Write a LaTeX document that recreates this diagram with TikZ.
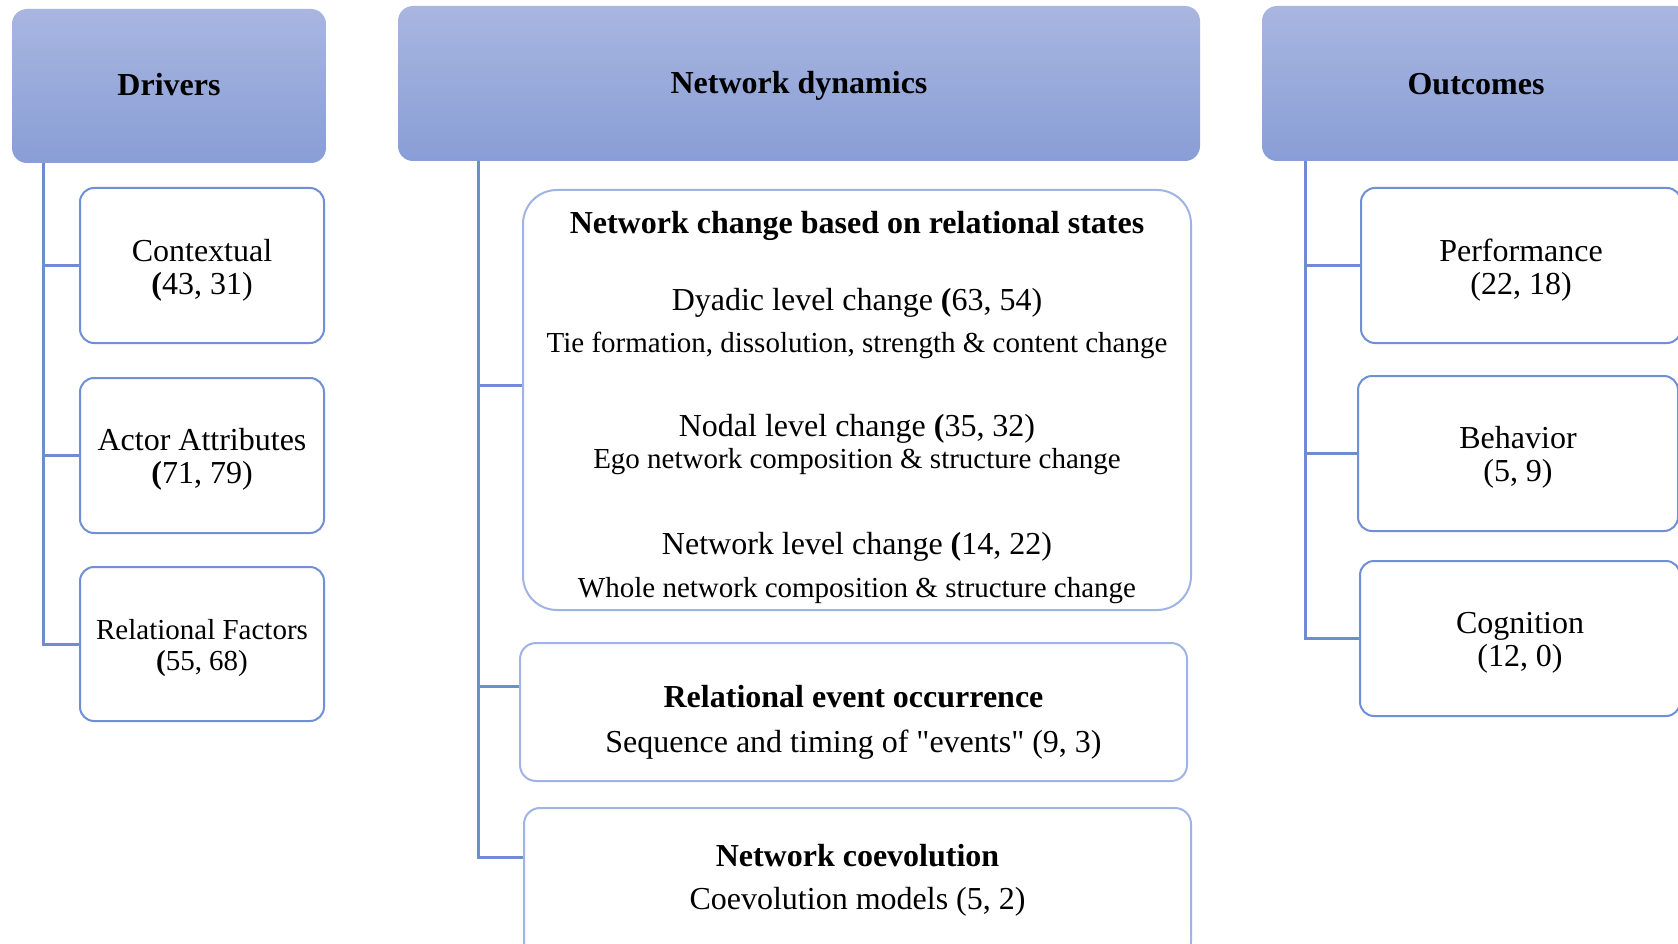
\documentclass[tikz,border=0pt]{standalone}
\usepackage{fontspec}
\setmainfont{Liberation Serif}
\definecolor{hdrTop}{RGB}{168,182,224}
\definecolor{hdrBot}{RGB}{137,158,214}
\definecolor{boxLine}{RGB}{112,143,212}
\definecolor{bigLine}{RGB}{160,180,228}
\definecolor{connLine}{RGB}{112,140,208}
\tikzset{
  hdr/.style={rounded corners=15pt, top color=hdrTop, bottom color=hdrBot, draw=none, inner sep=0pt},
  hdrtxt/.style={inner sep=0pt, font=\fontsize{32pt}{33pt}\selectfont\bfseries},
  itembox/.style={rounded corners=14pt, draw=boxLine, line width=2pt, fill=white, inner sep=0pt},
  itemtxt/.style={inner sep=0pt, align=center, font=\fontsize{32pt}{33pt}\selectfont},
  midbox/.style={draw=bigLine, line width=2pt, fill=white, inner sep=0pt},
  txt/.style={inner sep=0pt, align=center},
  big/.style={font=\fontsize{32pt}{33pt}\selectfont},
  bigb/.style={font=\fontsize{32pt}{33pt}\selectfont\bfseries},
  small/.style={font=\fontsize{29pt}{30pt}\selectfont},
  conn/.style={draw=connLine, line width=3pt},
}
\begin{document}
\begin{tikzpicture}[x=1pt,y=-1pt]
\clip (0,0) rectangle (1678,944);
\fill[white] (0,0) rectangle (1678,944);

% headers
\node[hdr, minimum width=314pt, minimum height=154pt] (drv) at (169,86) {};
\node[hdrtxt] (drvt) at (169,85) {Drivers};
\node[hdr, minimum width=802pt, minimum height=155pt] (nd) at (799,83.5) {};
\node[hdrtxt] (ndt) at (799,85.5) {Network dynamics};
\node[hdr, minimum width=428pt, minimum height=155pt] (out) at (1476,83.5) {};
\node[hdrtxt] (outt) at (1476,84.5) {Outcomes};

% drivers column
\node[itembox, minimum width=244pt, minimum height=155pt] (ctx) at (202,265.5) {};
\node[itemtxt] (ctxt) at (202,270.3) {Contextual\\\textbf{(}43, 31)};
\node[itembox, minimum width=244pt, minimum height=155pt] (act) at (202,455.5) {};
\node[itemtxt] (actt) at (202,459.2) {Actor Attributes\\\textbf{(}71, 79)};
\node[itembox, minimum width=244pt, minimum height=154pt] (rel) at (202,644) {};
\node[itemtxt, font=\fontsize{29pt}{31pt}\selectfont] (relt) at (202,647.7) {Relational Factors\\\textbf{(}55, 68)};

% network dynamics column
\node[midbox, rounded corners=34pt, minimum width=668pt, minimum height=420pt] (ncs) at (857,400) {};
\node[txt, bigb] (ncst) at (857,226.2) {Network change based on relational states};
\node[txt, big] (dy) at (857,303.2) {Dyadic level change \textbf{(}63, 54)};
\node[txt, small] (dys) at (857,345.2) {Tie formation, dissolution, strength \& content change};
\node[txt, big] (nod) at (857,429.2) {Nodal level change \textbf{(}35, 32)};
\node[txt, small] (nods) at (857,461.2) {Ego network composition \& structure change};
\node[txt, big] (nl) at (857,547.2) {Network level change \textbf{(}14, 22)};
\node[txt, small] (nls) at (857,590.3) {Whole network composition \& structure change};

\node[midbox, rounded corners=16pt, minimum width=667pt, minimum height=138pt] (reo) at (853.5,712) {};
\node[txt, bigb] (reot) at (853.5,697) {Relational event occurrence};
\node[txt, big] (reos) at (853.5,744.2) {Sequence and timing of \textquotedbl events\textquotedbl{} (9, 3)};

\node[midbox, rounded corners=16pt, minimum width=667pt, minimum height=150pt] (nce) at (857.5,883) {};
\node[txt, bigb] (ncet) at (857.5,856) {Network coevolution};
\node[txt, big] (nces) at (857.5,902.2) {Coevolution models (5, 2)};

% outcomes column
\node[itembox, minimum width=320pt, minimum height=155pt] (perf) at (1521,265.5) {};
\node[itemtxt] (perft) at (1521,270.3) {Performance\\(22, 18)};
\node[itembox, minimum width=320pt, minimum height=155pt] (beh) at (1518,453.5) {};
\node[itemtxt] (beht) at (1518,457.2) {Behavior\\(5, 9)};
\node[itembox, minimum width=320pt, minimum height=155pt] (cog) at (1520,638.5) {};
\node[itemtxt] (cogt) at (1520,642.8) {Cognition\\(12, 0)};

% connectors
\coordinate (dtop) at (43,163);
\draw[conn] (dtop) |- (rel.west);
\draw[conn] (dtop |- ctx.west) -- (ctx.west);
\draw[conn] (dtop |- act.west) -- (act.west);

\coordinate (ntop) at (478,161);
\path (ncs.west) ++(0,-15) coordinate (ncsin);
\path (reo.west) ++(0,-26) coordinate (reoin);
\path (nce.west) ++(0,-26) coordinate (ncein);
\draw[conn] (ntop) |- (ncein);
\draw[conn] (ntop |- ncsin) -- (ncsin);
\draw[conn] (ntop |- reoin) -- (reoin);

\coordinate (otop) at (1305,161);
\draw[conn] (otop) |- (cog.west);
\draw[conn] (otop |- perf.west) -- (perf.west);
\draw[conn] (otop |- beh.west) -- (beh.west);
\end{tikzpicture}
\end{document}
